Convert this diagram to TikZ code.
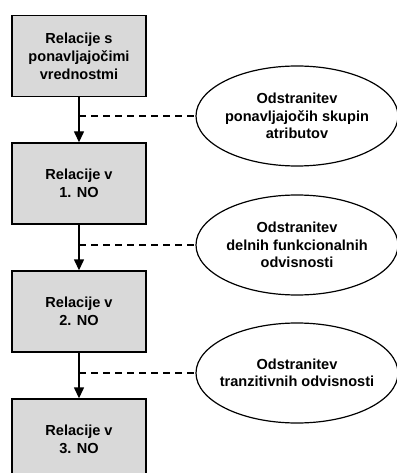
\documentclass[tikz,border=0pt]{standalone}
\usepackage{fontspec}
\setmainfont{Liberation Sans}
\usetikzlibrary{arrows.meta,shapes.geometric}
\tikzset{
  stepbox/.style={draw, line width=1.4bp, fill=boxgray, minimum width=134bp,
    minimum height=81bp, inner sep=0pt, align=center,
    font=\bfseries\fontsize{14.6}{18}\selectfont},
  taskell/.style={draw, ellipse, line width=1.2bp, minimum width=202bp,
    minimum height=100bp, inner sep=0pt},
  tasktext/.style={inner sep=0pt, align=center,
    font=\bfseries\fontsize{14.6}{17.5}\selectfont},
  flow/.style={line width=1.4bp, -{Triangle[width=10bp,length=11bp]}},
  link/.style={line width=1.4bp, dash pattern=on 7bp off 5bp}
}
\definecolor{boxgray}{HTML}{D9D9D9}
\begin{document}
\begin{tikzpicture}[x=1bp,y=-1bp]
  \useasboundingbox (0,0) rectangle (396,473);
  % normal-form stages
  \node[stepbox] (b1) at (79,56) {Relacije s\\ponavljajočimi\\vrednostmi};
  \node[stepbox] (b2) at (79,183.5) {Relacije v\\1. NO};
  \node[stepbox] (b3) at (79,311.5) {Relacije v\\2. NO};
  \node[stepbox] (b4) at (79,439.5) {Relacije v\\3. NO};
  % transformations: fixed-size ellipses with their captions
  \node[taskell] (e1) at (297,116) {};
  \node[taskell] (e2) at (297,245) {};
  \node[taskell] (e3) at (297,373) {};
  \node[tasktext] (t1) at (e1.center) {Odstranitev\\ponavljajočih skupin\\atributov};
  \node[tasktext] (t2) at (e2.center) {Odstranitev\\delnih funkcionalnih\\odvisnosti};
  \node[tasktext] (t3) at (e3.center) {Odstranitev\\tranzitivnih odvisnosti};
  % join points on the flow arrows
  \coordinate (d1) at (79,116);
  \coordinate (d2) at (79,245);
  \coordinate (d3) at (79,373);
  \draw[flow] (b1) -- (b2);
  \draw[flow] (b2) -- (b3);
  \draw[flow] (b3) -- (b4);
  \draw[link] (d1) -- (e1.west);
  \draw[link] (d2) -- (e2.west);
  \draw[link] (d3) -- (e3.west);
\end{tikzpicture}
\end{document}
